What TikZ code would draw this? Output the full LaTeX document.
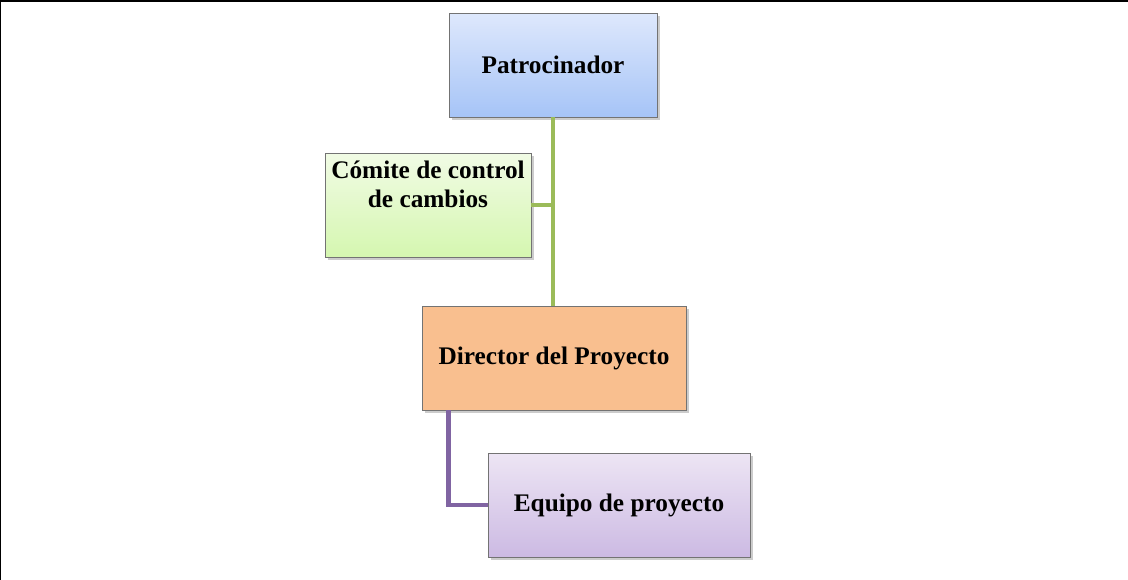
\documentclass[tikz,border=0pt]{standalone}
\usepackage{fontspec}
\setmainfont{Liberation Serif}
\usetikzlibrary{positioning, shadows}

\definecolor{patTop}{RGB}{222,232,252}
\definecolor{patBot}{RGB}{166,196,247}
\definecolor{comTop}{RGB}{241,251,229}
\definecolor{comBot}{RGB}{213,247,176}
\definecolor{dirFill}{RGB}{249,191,143}
\definecolor{eqTop}{RGB}{237,229,244}
\definecolor{eqBot}{RGB}{204,186,227}
\definecolor{linkGreen}{RGB}{155,187,89}
\definecolor{linkPurple}{RGB}{128,100,162}

\begin{document}
\begin{tikzpicture}[
  x=0.02cm, y=-0.02cm,
  box/.style={rectangle, draw=black!55, line width=0.5pt, minimum height=2.08cm,
    font=\bfseries\fontsize{14.4}{16}\selectfont,
    drop shadow={shadow xshift=1.8pt, shadow yshift=-1.8pt, opacity=0.4}},
  link/.style={line width=2.8pt},
  title/.style={font=\bfseries\fontsize{14.4}{16.4}\selectfont, align=center}
]
\useasboundingbox (0,0) rectangle (1128,580);

% Frame
\draw[line width=1.2pt] (0,1) -- (1128,1);
\draw[line width=0.6pt] (0.5,0) -- (0.5,580);

% Boxes
\node[box, minimum width=4.16cm, top color=patTop, bottom color=patBot] (pat) at (553,65) {Patrocinador};
\node[box, minimum width=4.12cm, top color=comTop, bottom color=comBot,
  label={[title, anchor=north, yshift=-1.5pt]north:Cómite de control\\de cambios}] (comite) at (428,205) {};
\node[box, minimum width=5.28cm, fill=dirFill] (dir) at (554,358) {Director del Proyecto};
\node[box, minimum width=5.24cm, top color=eqTop, bottom color=eqBot] (equipo) at (619,505) {Equipo de proyecto};

% Links
\draw[link, linkGreen] (pat.south) -- (pat.south |- dir.north);
\draw[link, linkGreen] (comite.east) -- (comite.east -| pat.south);
\coordinate (dtap) at ([xshift=0.54cm]dir.south west);
\draw[link, linkPurple] (dtap) |- (equipo.west);
\end{tikzpicture}
\end{document}
